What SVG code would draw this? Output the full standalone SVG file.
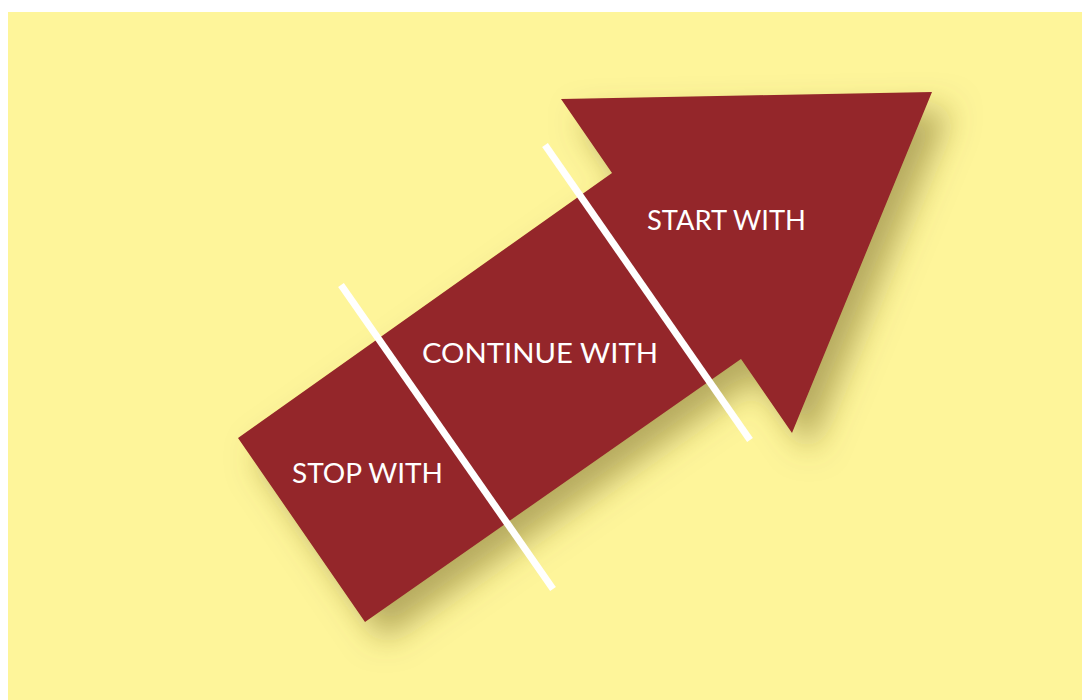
<svg xmlns="http://www.w3.org/2000/svg" width="1082" height="700" viewBox="0 0 1082 700">
  <defs>
    <filter id="shadow" x="-20%" y="-20%" width="150%" height="150%">
      <feDropShadow dx="18" dy="18" stdDeviation="16" flood-color="#6e6020" flood-opacity="0.5"/>
    </filter>
    <style>
      .lbl { font-family: Lato, "Open Sans", "Liberation Sans", sans-serif; font-size: 26px; fill: #ffffff; }
      .divider { stroke: #ffffff; stroke-width: 7; stroke-linecap: butt; }
    </style>
  </defs>
  <rect x="0" y="0" width="1082" height="700" fill="#ffffff"/>
  <rect x="8" y="12" width="1074" height="688" fill="#fef59a"/>
  <g id="arrow">
    <polygon points="238,438 612,173 561,99 932,92 792,433 741,359 365,622" fill="#94272a" filter="url(#shadow)"/>
  </g>
  <g id="connectors">
    <line class="divider" x1="341" y1="285" x2="553" y2="589"/>
    <line class="divider" x1="545" y1="145" x2="750" y2="440"/>
  </g>
  <g id="stop">
    <text class="lbl" x="292" y="483" textLength="151" lengthAdjust="spacingAndGlyphs">STOP WITH</text>
  </g>
  <g id="continue">
    <text class="lbl" x="422" y="363" textLength="236" lengthAdjust="spacingAndGlyphs">CONTINUE WITH</text>
  </g>
  <g id="start">
    <text class="lbl" x="647" y="230" textLength="159" lengthAdjust="spacingAndGlyphs">START WITH</text>
  </g>
</svg>
